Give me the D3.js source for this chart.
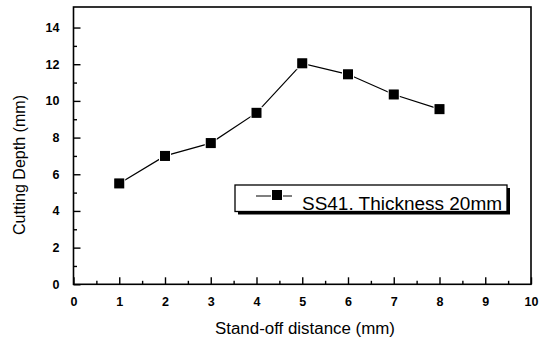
<!DOCTYPE html>
<html><head><meta charset="utf-8">
<script src="https://cdn.jsdelivr.net/npm/d3@7"></script>
<style>body{margin:0;background:#fff}svg{display:block}text{font-family:"Liberation Sans",Arial,sans-serif;fill:#000}</style>
</head><body>
<svg id="c" width="540" height="342"></svg>
<script>
const standoff = [1,2,3,4,5,6,7,8];
const depth = [5.5,7.0,7.7,9.35,12.05,11.45,10.35,9.55];
const xTicks = [0,1,2,3,4,5,6,7,8,9,10];
const yTicks = [0,2,4,6,8,10,12,14];
const seriesName = "SS41. Thickness 20mm";
const xTitle = "Stand-off distance (mm)";
const yTitle = "Cutting Depth (mm)";

const svg = d3.select("#c");
const L=73.5, R=531, T=7, B=284.3;
const x = d3.scaleLinear().domain([0,10]).range([L,R]);
const y = d3.scaleLinear().domain([0,15.12]).range([B,T]);

// frame
svg.append("rect").attr("x",L).attr("y",T).attr("width",R-L).attr("height",B-T)
  .attr("fill","none").attr("stroke","#000").attr("stroke-width",1.6);

// x axis ticks (inward)
const xa = svg.append("g").attr("transform",`translate(0,${B})`)
  .call(d3.axisBottom(x).tickValues(xTicks).tickSize(-7).tickPadding(18).tickFormat(d3.format("d")));
xa.select(".domain").remove();
xa.selectAll("line").attr("stroke-width",1.4);
xa.selectAll("text").attr("font-size",12.5).attr("font-weight","bold").attr("dy","0.32em");
const xm = svg.append("g").attr("transform",`translate(0,${B})`)
  .call(d3.axisBottom(x).tickValues(d3.range(0.5,10,1)).tickSize(-3.5).tickFormat(""));
xm.select(".domain").remove();
xm.selectAll("line").attr("stroke-width",1.4);

// y axis ticks (inward)
const ya = svg.append("g").attr("transform",`translate(${L},0)`)
  .call(d3.axisLeft(y).tickValues(yTicks).tickSize(-7).tickPadding(14).tickFormat(d3.format("d")));
ya.select(".domain").remove();
ya.selectAll("line").attr("stroke-width",1.4);
ya.selectAll("text").attr("font-size",12.5).attr("font-weight","bold");
const ym = svg.append("g").attr("transform",`translate(${L},0)`)
  .call(d3.axisLeft(y).tickValues(d3.range(1,15,2)).tickSize(-3.5).tickFormat(""));
ym.select(".domain").remove();
ym.selectAll("line").attr("stroke-width",1.4);

// titles
svg.append("text").attr("x",305).attr("y",334).attr("text-anchor","middle")
  .attr("font-size",16).attr("textLength",180).attr("lengthAdjust","spacingAndGlyphs").text(xTitle);
svg.append("text").attr("transform","translate(25,165) rotate(-90)").attr("text-anchor","middle")
  .attr("font-size",16).attr("textLength",140).attr("lengthAdjust","spacingAndGlyphs").text(yTitle);

// line + markers
const pts = standoff.map((d,i)=>[d,depth[i]]);
svg.append("path").datum(pts)
  .attr("d",d3.line().x(d=>x(d[0])).y(d=>y(d[1])))
  .attr("fill","none").attr("stroke","#000").attr("stroke-width",1.2);
svg.selectAll(".m").data(pts).join("rect").attr("class","m")
  .attr("x",d=>x(d[0])-5).attr("y",d=>y(d[1])-5).attr("width",10).attr("height",10)
  .attr("fill","#000").attr("stroke","#fff").attr("stroke-width",2).attr("paint-order","stroke");
svg.selectAll(".m2").data(pts).join("rect").attr("class","m2")
  .attr("x",d=>x(d[0])-4.5).attr("y",d=>y(d[1])-4.5).attr("width",9).attr("height",9).attr("fill","#000");

// legend
const lg = svg.append("g");
lg.append("rect").attr("x",238).attr("y",188).attr("width",272).attr("height",26.5).attr("fill","#000");
lg.append("rect").attr("x",235).attr("y",185).attr("width",272).attr("height",26.5)
  .attr("fill","#fff").attr("stroke","#000").attr("stroke-width",1.3);
lg.append("line").attr("x1",256).attr("x2",292).attr("y1",196).attr("y2",196).attr("stroke","#000").attr("stroke-width",1.2);
lg.append("rect").attr("x",272).attr("y",190).attr("width",10).attr("height",10).attr("fill","#000").attr("stroke","#fff").attr("stroke-width",2).attr("paint-order","stroke");
lg.append("rect").attr("x",272.5).attr("y",190.5).attr("width",9).attr("height",9).attr("fill","#000");
lg.append("text").attr("x",302).attr("y",210).attr("font-size",18).attr("textLength",200)
  .attr("lengthAdjust","spacingAndGlyphs").text(seriesName);
</script>
</body></html>
